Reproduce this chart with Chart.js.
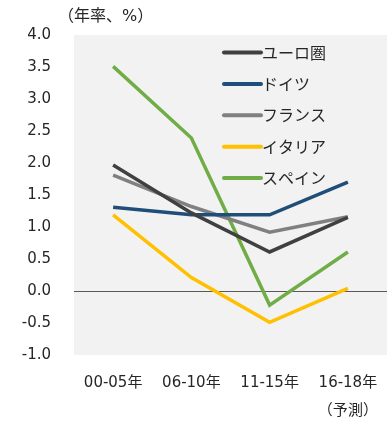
<!DOCTYPE html>
<html>
<head>
<meta charset="utf-8">
<script src="https://cdn.jsdelivr.net/npm/chart.js@4/dist/chart.umd.min.js"></script>
<style>
  html, body { margin: 0; padding: 0; background: #ffffff; }
  #wrap { width: 387px; height: 423px; position: relative; }
</style>
</head>
<body>
<div id="wrap"><canvas id="c" width="387" height="423"></canvas></div>
<script>
const categories = ['00-05年', '06-10年', '11-15年', ['16-18年', '（予測）']];
const seriesNames = ['ユーロ圏', 'ドイツ', 'フランス', 'イタリア', 'スペイン'];
const euroArea = [1.97, 1.22, 0.61, 1.15];
const germany  = [1.31, 1.19, 1.19, 1.70];
const france   = [1.81, 1.32, 0.92, 1.16];
const italy    = [1.19, 0.21, -0.49, 0.04];
const spain    = [3.51, 2.39, -0.22, 0.61];
const seriesColors = ['#404040', '#1f4e79', '#808080', '#ffc000', '#70ad47'];
const yTitle = '（年率、%）';

const FONT = "'DejaVu Sans', 'Noto Sans CJK JP', sans-serif";
const JFONT = "'Noto Sans CJK JP', sans-serif";
const TEXT = '#262626';

const seriesData = [euroArea, germany, france, italy, spain];

const bgPlugin = {
  id: 'bg',
  beforeDraw(chart) {
    const { ctx, chartArea: a } = chart;
    ctx.save();
    ctx.fillStyle = '#f2f2f2';
    ctx.fillRect(a.left, a.top, a.right - a.left, a.bottom - a.top);
    ctx.restore();
  },
  afterDraw(chart) {
    const { ctx } = chart;
    ctx.save();
    // y-axis title
    ctx.fillStyle = TEXT;
    ctx.font = '16px ' + FONT;
    ctx.textAlign = 'left';
    ctx.textBaseline = 'middle';
    ctx.fillText(yTitle, 58, 17);
    // legend
    const x0 = 224, x1 = 261, ty0 = 52.5, step = 31.4;
    chart.data.datasets.forEach((ds, i) => {
      const y = ty0 + i * step;
      ctx.strokeStyle = ds.borderColor;
      ctx.lineWidth = 4;
      ctx.lineCap = 'round';
      ctx.beginPath();
      ctx.moveTo(x0, y);
      ctx.lineTo(x1, y);
      ctx.stroke();
      ctx.fillStyle = TEXT;
      ctx.font = '16px ' + JFONT;
      ctx.textAlign = 'left';
      ctx.textBaseline = 'middle';
      ctx.fillText(ds.label, x1 + 1, y);
    });
    ctx.restore();
  }
};

new Chart(document.getElementById('c'), {
  type: 'line',
  data: {
    labels: categories,
    datasets: seriesNames.map((name, i) => ({
      label: name,
      data: seriesData[i],
      borderColor: seriesColors[i],
      backgroundColor: seriesColors[i],
      borderWidth: 3.5,
      pointRadius: 0,
      tension: 0,
      fill: false
    }))
  },
  options: {
    responsive: false,
    animation: false,
    devicePixelRatio: 1,
    layout: { padding: { top: 35, left: 0, right: 0, bottom: 0 } },
    plugins: { legend: { display: false }, tooltip: { enabled: false } },
    scales: {
      x: {
        offset: true,
        grid: { display: false, drawTicks: false },
        border: { display: false },
        ticks: {
          color: TEXT,
          font: { family: FONT, size: 15, lineHeight: '28px' },
          padding: 14,
          maxRotation: 0,
          autoSkip: false
        },
        afterFit(s) { s.height = 68; s.paddingLeft = 0; s.paddingRight = 0; }
      },
      y: {
        min: -1,
        max: 4,
        grid: {
          drawTicks: false,
          lineWidth: 1,
          color: (c) => (c.tick && c.tick.value === 0 ? '#595959' : 'rgba(0,0,0,0)')
        },
        border: { display: false },
        ticks: {
          stepSize: 0.5,
          color: TEXT,
          font: { family: FONT, size: 15 },
          padding: 23,
          callback: (v) => Number(v).toFixed(1)
        },
        afterFit(s) { s.width = 74; s.paddingTop = 0; s.paddingBottom = 0; }
      }
    }
  },
  plugins: [bgPlugin]
});
</script>
</body>
</html>
